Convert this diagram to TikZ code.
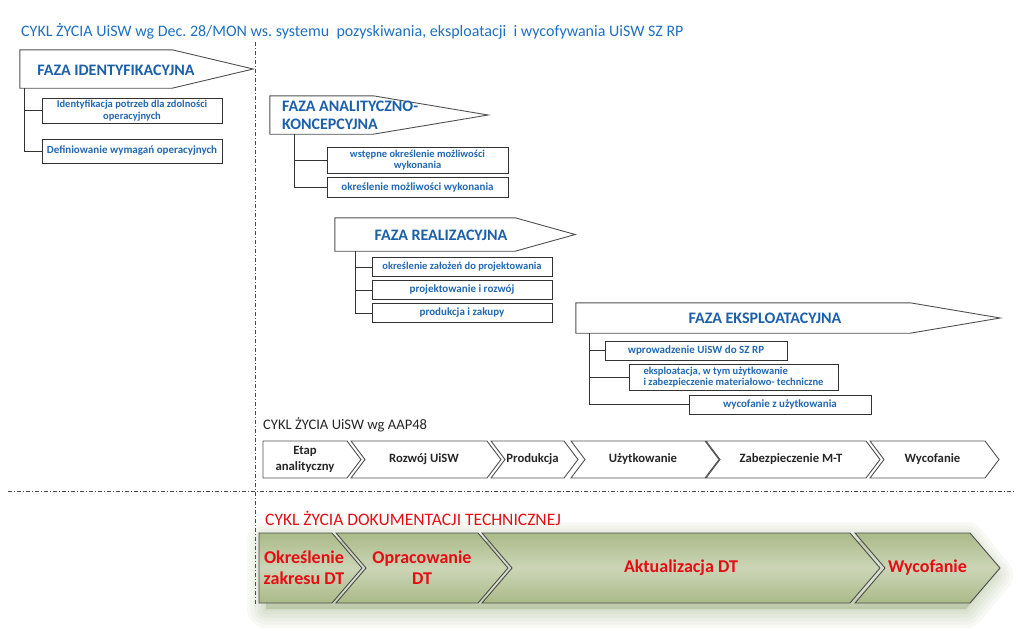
\documentclass[tikz,border=0pt]{standalone}
\usepackage{fontspec}
\setmainfont{Carlito}
\usepackage{tikz}
\frenchspacing

\definecolor{titleblue}{RGB}{31,112,192}
\definecolor{phaseblue}{RGB}{28,96,170}
\definecolor{subblue}{RGB}{34,104,178}
\definecolor{phasegray}{RGB}{80,80,80}
\definecolor{boxgray}{RGB}{50,50,50}
\definecolor{divgray}{RGB}{70,70,70}
\definecolor{dtred}{RGB}{230,12,20}
\definecolor{dtfill}{RGB}{204,213,182}
\definecolor{dtedge}{RGB}{170,186,136}
\definecolor{glowgreen}{RGB}{120,145,80}

\begin{document}
\begin{tikzpicture}[x=1pt, y=-1pt,
                phasebody/.style={inner sep=0pt},
                phaseline/.style={draw=phasegray, line width=0.9pt, fill=white},
                phasetext/.style={font=\fontsize{16}{18}\selectfont\bfseries, text=phaseblue, inner sep=0pt},
                subbox/.style={draw=boxgray, line width=0.9pt, fill=white, inner sep=1pt, align=center,
                               font=\fontsize{11}{13}\selectfont\bfseries, text=subblue},
                twoline/.style={inner sep=0.5pt, font=\fontsize{10.5}{11.6}\selectfont\bfseries},
                link/.style={draw=boxgray, line width=0.9pt},
                divider/.style={draw=divgray, line width=0.8pt, dash pattern=on 4pt off 2pt on 1pt off 2pt},
                chevline/.style={draw=phasegray, line width=0.9pt, fill=white},
                chevtext/.style={font=\fontsize{12.7}{16}\selectfont\bfseries, text=black!85, align=center, inner sep=0pt},
                glow/.style={draw=glowgreen, fill=glowgreen, opacity=0.055, line join=round},
                dtshape/.style={draw=black!70, line width=0.9pt, top color=dtedge, bottom color=dtedge, middle color=dtfill},
                dttext/.style={font=\fontsize{18}{21}\selectfont\bfseries, text=dtred, align=center, inner sep=0pt}]
                \useasboundingbox (0,0) rectangle (1024,637);

                % headline
                \node[anchor=west, inner sep=0pt, font=\fontsize{16}{18}\selectfont, text=titleblue] (title) at (21,31)
                    {CYKL ŻYCIA UiSW wg Dec.~28/MON ws. systemu\ \ pozyskiwania, eksploatacji\ \ i wycofywania UiSW SZ RP};

                % dividers
                \coordinate (vtop) at (255,42);
                \coordinate (vbot) at (255,606);
                \coordinate (hleft) at (8,491);
                \coordinate (hright) at (1015,491);
                \draw[divider] (vtop) -- (vbot);
                \draw[divider] (hleft) -- (hright);

                % faza identyfikacyjna
                \node[phasebody, minimum width=152pt, minimum height=38pt] (fid) at (96,69) {};
                \draw[phaseline] (fid.north west) -- (fid.north east) -- ([xshift=81pt]fid.east) -- (fid.south east) -- (fid.south west) -- cycle;
                \node[phasetext] (fidtxt) at (116,70) {FAZA IDENTYFIKACYJNA};
                \node[subbox, twoline, minimum width=180pt, minimum height=25pt] (fid1) at (132,110.5) {Identyfikacja potrzeb dla zdolności\\operacyjnych};
                \node[subbox, minimum width=180pt, minimum height=24pt] (fid2) at (132,151) {Definiowanie wymagań operacyjnych};
                \draw[link] ([xshift=5pt]fid.south west) |- (fid1.west);
                \draw[link] ([xshift=5pt]fid.south west) |- (fid2.west);

                % faza analityczno-koncepcyjna
                \node[phasebody, minimum width=103pt, minimum height=38pt] (fak) at (321.5,115) {};
                \draw[phaseline] (fak.north west) -- (fak.north east) -- ([xshift=115pt]fak.east) -- (fak.south east) -- (fak.south west) -- cycle;
                \node[phasetext, anchor=west, align=left] (faktxt) at (282,115) {FAZA ANALITYCZNO-\\KONCEPCYJNA};
                \node[subbox, twoline, minimum width=181pt, minimum height=26pt] (fak1) at (417.5,160) {wstępne określenie możliwości\\wykonania};
                \node[subbox, minimum width=181pt, minimum height=20pt] (fak2) at (417.5,187) {określenie możliwości wykonania};
                \draw[link] ([xshift=25pt]fak.south west) |- (fak1.west);
                \draw[link] ([xshift=25pt]fak.south west) |- (fak2.west);

                % faza realizacyjna
                \node[phasebody, minimum width=180pt, minimum height=33pt] (frl) at (425,234.5) {};
                \draw[phaseline] (frl.north west) -- (frl.north east) -- ([xshift=60pt]frl.east) -- (frl.south east) -- (frl.south west) -- cycle;
                \node[phasetext] (frltxt) at (441,235) {FAZA REALIZACYJNA};
                \node[subbox, minimum width=180pt, minimum height=19pt, font=\fontsize{10.5}{12}\selectfont\bfseries] (frl1) at (462,267) {określenie założeń do projektowania};
                \node[subbox, minimum width=180pt, minimum height=19pt] (frl2) at (462,290) {projektowanie i rozwój};
                \node[subbox, minimum width=180pt, minimum height=19pt] (frl3) at (462,313) {produkcja i zakupy};
                \draw[link] ([xshift=21pt]frl.south west) |- (frl1.west);
                \draw[link] ([xshift=21pt]frl.south west) |- (frl2.west);
                \draw[link] ([xshift=21pt]frl.south west) |- (frl3.west);

                % faza eksploatacyjna
                \node[phasebody, minimum width=334pt, minimum height=30pt] (fek) at (743,318) {};
                \draw[phaseline] (fek.north west) -- (fek.north east) -- ([xshift=90pt]fek.east) -- (fek.south east) -- (fek.south west) -- cycle;
                \node[phasetext] (fektxt) at (765,318) {FAZA EKSPLOATACYJNA};
                \node[subbox, minimum width=182pt, minimum height=19pt] (fek1) at (696,350.5) {wprowadzenie UiSW do SZ RP};
                \node[subbox, twoline, minimum width=209pt, minimum height=26pt, align=left] (fek2) at (733.5,377) {eksploatacja, w tym użytkowanie\\i zabezpieczenie materiałowo- techniczne};
                \node[subbox, minimum width=182pt, minimum height=19pt] (fek3) at (780,404.5) {wycofanie z użytkowania};
                \draw[link] ([xshift=14pt]fek.south west) |- (fek1.west);
                \draw[link] ([xshift=14pt]fek.south west) |- (fek2.west);
                \draw[link] ([xshift=14pt]fek.south west) |- (fek3.west);

                % cykl wg AAP48
                \node[anchor=west, inner sep=0pt, font=\fontsize{14.6}{17}\selectfont, text=black!85] (aaphead) at (263,425) {CYKL ŻYCIA UiSW wg AAP48};
                \draw[chevline] (263,441) -- (347,441) -- (361,459.5) -- (347,478) -- (263,478) -- cycle;
                \node[chevtext] (etap) at (305,459.5) {Etap\\analityczny};
                \foreach \s/\e/\n/\t in {351/487/rozwoj/Rozwój UiSW, 491/564/produkcja/Produkcja, 571/705/uzytk/Użytkowanie,
                                         706/866/zabezp/Zabezpieczenie M-T, 870/985/wycof/Wycofanie}
                {
                    \draw[chevline] (\s,441) -- (\e,441) -- (\e+14,459.5) -- (\e,478) -- (\s,478) -- (\s+14,459.5) -- cycle;
                    \node[chevtext] (\n) at ({(\s+\e)/2+5},459.5) {\t};
                }

                % cykl dokumentacji technicznej
                \node[anchor=west, inner sep=0pt, font=\fontsize{17.5}{20}\selectfont, text=dtred] (dthead) at (265,518) {CYKL ŻYCIA DOKUMENTACJI TECHNICZNEJ};
                \foreach \w in {38,31,24,17,10,4}
                    \draw[glow, line width=\w pt] (266,541) -- (966,541) -- (994,575) -- (966,609) -- (266,609) -- cycle;
                \draw[dtshape] (259,533) -- (332,533) -- (362,568) -- (332,603) -- (259,603) -- cycle;
                \node[dttext] (dtzakres) at (304,568) {Określenie\\zakresu DT};
                \foreach \s/\e/\n/\t in {336/478/dtopr/Opracowanie\\DT, 482/850/dtakt/Aktualizacja DT, 855/970/dtwyc/Wycofanie}
                {
                    \draw[dtshape] (\s,533) -- (\e,533) -- (\e+30,568) -- (\e,603) -- (\s,603) -- (\s+30,568) -- cycle;
                    \node[dttext] (\n) at ({(\s+\e)/2+15},568) {\t};
                }
\end{tikzpicture}
\end{document}
